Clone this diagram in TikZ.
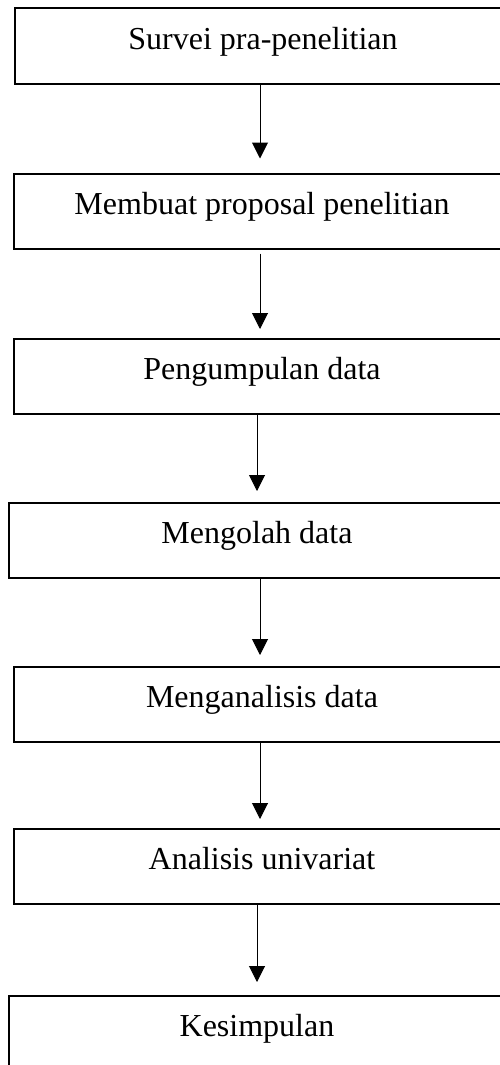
\documentclass[tikz,border=0pt]{standalone}
\usepackage{fontspec}
\setmainfont{Liberation Serif}
\usetikzlibrary{arrows.meta}
\begin{document}
\begin{tikzpicture}[x=1pt,y=1pt,
  stepbox/.style={draw=black, line width=2pt, rectangle, inner sep=0pt,
    minimum width=496pt, minimum height=75pt, text height=6pt, text depth=0pt,
    font=\fontsize{32}{38}\selectfont},
  arr/.style={line width=1pt, -{Triangle[width=16pt,length=16pt]}}]
\useasboundingbox (0,0) rectangle (500,-1065);
\clip (0,0) rectangle (500,-1065);
\fill[white] (0,0) rectangle (500,-1065);
\node[stepbox] (b1) at (263,-46) {Survei pra-penelitian};
\node[stepbox] (b2) at (262,-211) {Membuat proposal penelitian};
\node[stepbox] (b3) at (262,-376) {Pengumpulan data};
\node[stepbox] (b4) at (257,-540.5) {Mengolah data};
\node[stepbox] (b5) at (262,-704.5) {Menganalisis data};
\node[stepbox] (b6) at (262,-866) {Analisis univariat};
\node[stepbox] (b7) at (257,-1033.5) {Kesimpulan};
\draw[arr, shorten >=14pt] ([xshift=-3pt]b1.south) -- ([xshift=-2pt]b2.north);
\draw[arr, shorten <=4pt, shorten >=8.5pt] ([xshift=-2pt]b2.south) -- ([xshift=-2pt]b3.north);
\draw[arr, shorten >=11pt] ([xshift=-5pt]b3.south) -- (b4.north);
\draw[arr, shorten >=11pt] ([xshift=3pt]b4.south) -- ([xshift=-2pt]b5.north);
\draw[arr, shorten >=8.5pt] ([xshift=-2pt]b5.south) -- ([xshift=-2pt]b6.north);
\draw[arr, shorten >=13pt] ([xshift=-5pt]b6.south) -- (b7.north);
\end{tikzpicture}
\end{document}
